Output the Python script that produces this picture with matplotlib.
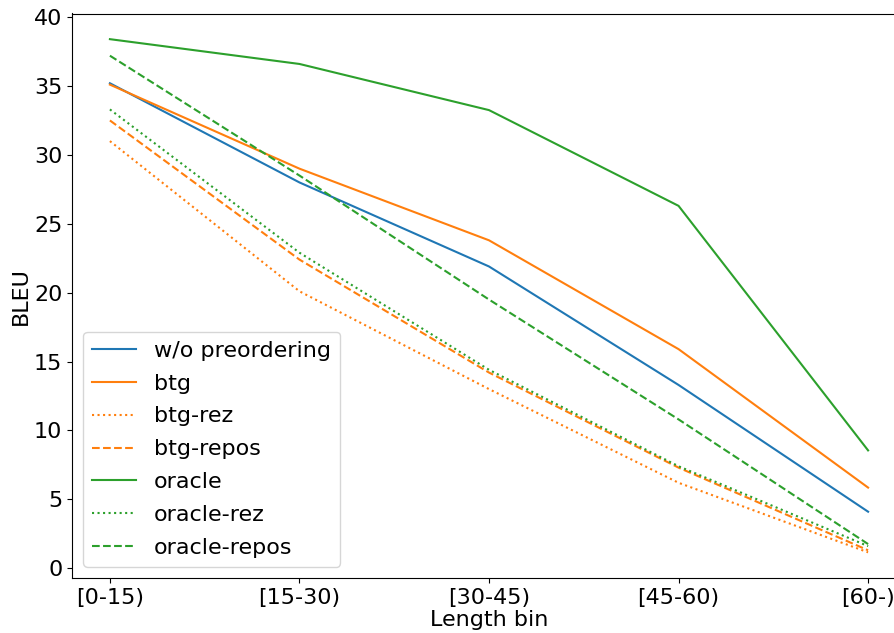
import numpy as np
import matplotlib
matplotlib.use("Agg")
import matplotlib.pyplot as plt

bins = ['[0-15)', '[15-30)', '[30-45)', '[45-60)', '[60-)']

wo_preordering = [35.2, 28.0, 21.9, 13.3, 4.1]
btg = [35.1, 29.0, 23.8, 15.9, 5.85]
btg_rez = [31.0, 20.1, 13.0, 6.2, 1.15]
btg_repos = [32.5, 22.4, 14.2, 7.3, 1.3]
oracle = [38.4, 36.6, 33.25, 26.3, 8.55]
oracle_rez = [33.3, 22.9, 14.4, 7.4, 1.6]
oracle_repos = [37.2, 28.5, 19.5, 10.8, 1.75]

plt.rcParams['font.size'] = 16

fig = plt.figure(figsize=(8.94, 6.33), dpi=100)
ax = fig.add_axes([72 / 894, 1 - 578 / 633, 834 / 894, (578 - 13.5) / 633])

x = np.arange(len(bins))
ax.plot(x, wo_preordering, color='C0', label='w/o preordering')
ax.plot(x, btg, color='C1', label='btg')
ax.plot(x, btg_rez, color='C1', linestyle=':', label='btg-rez')
ax.plot(x, btg_repos, color='C1', linestyle='--', label='btg-repos')
ax.plot(x, oracle, color='C2', label='oracle')
ax.plot(x, oracle_rez, color='C2', linestyle=':', label='oracle-rez')
ax.plot(x, oracle_repos, color='C2', linestyle='--', label='oracle-repos')

ax.set_xticks(x, labels=bins)
ax.set_xlabel('Length bin', labelpad=2)
ax.set_ylabel('BLEU', labelpad=2)
ax.legend(loc='lower left', labelspacing=0.58)

plt.savefig("out.png", dpi=100)
